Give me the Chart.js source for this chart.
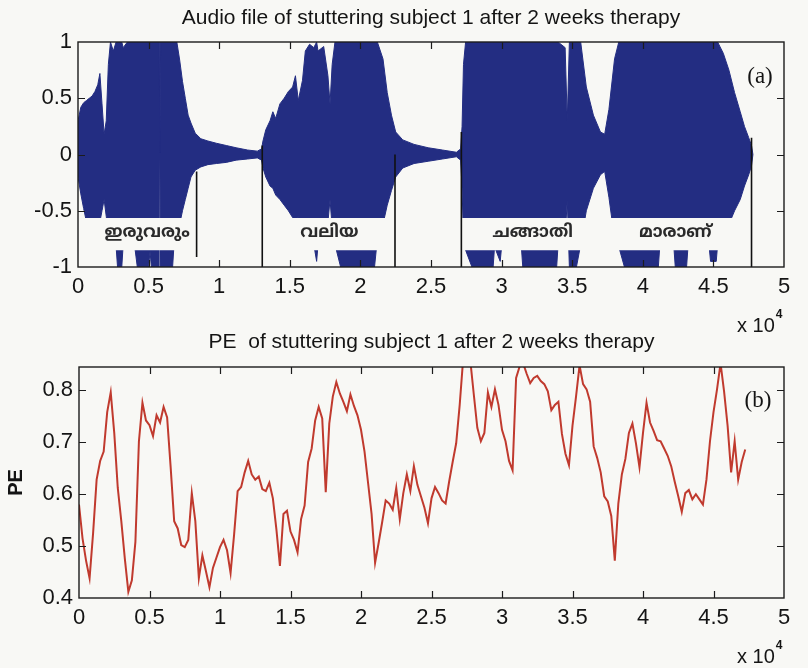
<!DOCTYPE html>
<html>
<head>
<meta charset="utf-8">
<script src="https://cdn.jsdelivr.net/npm/chart.js@4.4.1/dist/chart.umd.min.js"></script>
<style>
  body { margin: 0; background: #f8f8f5; }
  #wrap { position: relative; width: 808px; height: 668px; overflow: hidden; }
  canvas { position: absolute; left: 0; }
  #audio-chart { top: 0; }
  #pe-chart { top: 318px; }
</style>
</head>
<body>
<div id="wrap">
  <canvas id="audio-chart" width="808" height="340"></canvas>
  <canvas id="pe-chart" width="808" height="350"></canvas>
</div>
<script>
// x positions are in units of 10^4 samples
const xTicks = [0, 0.5, 1, 1.5, 2, 2.5, 3, 3.5, 4, 4.5, 5];
const audioTicks = [-1, -0.5, 0, 0.5, 1];
const peTicks = [0.4, 0.5, 0.6, 0.7, 0.8];

// waveform envelope (upper / lower amplitude)
const waveX = [
  0, 0.02, 0.04, 0.06, 0.08, 0.10, 0.12, 0.14, 0.155, 0.17, 0.185, 0.20, 0.215, 0.23, 0.25,
  0.27, 0.28, 0.31, 0.32, 0.35, 0.40, 0.42, 0.50, 0.51, 0.52, 0.575, 0.58, 0.585, 0.67, 0.68,
  0.70, 0.72, 0.74, 0.76, 0.78, 0.80, 0.83, 0.87, 0.92, 0.98, 1.05, 1.12, 1.20, 1.27, 1.30,
  1.31, 1.33, 1.36, 1.38, 1.40, 1.43, 1.46, 1.49, 1.52, 1.54, 1.56, 1.59, 1.61, 1.64, 1.67,
  1.69, 1.70, 1.74, 1.77, 1.785, 1.80, 1.82, 1.86, 2.10, 2.12, 2.16, 2.19, 2.22, 2.25, 2.30,
  2.38, 2.48, 2.58, 2.68, 2.71,
  2.72, 2.73, 2.745, 2.79, 2.94, 2.95, 2.99, 3.00, 3.14, 3.15, 3.39, 3.40, 3.45, 3.465, 3.48,
  3.53, 3.56, 3.60, 3.65, 3.70, 3.73, 3.76, 3.80, 3.83, 3.87, 4.11, 4.12, 4.22, 4.23, 4.31,
  4.32, 4.47, 4.48, 4.52, 4.53, 4.57, 4.61, 4.65, 4.69, 4.72, 4.75, 4.77, 4.78
];
const waveUpper = [
  0.30, 0.42, 0.46, 0.48, 0.50, 0.52, 0.56, 0.62, 0.72, 0.45, 0.18, 0.30, 0.80, 1.00, 0.92,
  1.00, 1.00, 1.00, 0.95, 1.00, 1.00, 1.00, 1.00, 1.00, 1.00, 1.00, 0.02, 1.00, 1.00, 1.00,
  1.00, 0.84, 0.65, 0.50, 0.35, 0.28, 0.19, 0.14, 0.12, 0.10, 0.08, 0.06, 0.04, 0.03, 0.05,
  0.12, 0.22, 0.30, 0.38, 0.32, 0.45, 0.50, 0.56, 0.60, 0.70, 0.48, 0.66, 0.92, 0.98, 0.95,
  1.00, 0.92, 0.96, 0.70, 0.45, 0.80, 1.00, 1.00, 1.00, 1.00, 0.85, 0.55, 0.35, 0.20, 0.13,
  0.09, 0.06, 0.04, 0.02, 0.05,
  0.25, 0.80, 1.00, 1.00, 1.00, 1.00, 1.00, 1.00, 1.00, 1.00, 1.00, 1.00, 0.95, 0.30, 1.00,
  1.00, 1.00, 0.60, 0.35, 0.20, 0.18, 0.40, 0.85, 1.00, 1.00, 1.00, 1.00, 1.00, 1.00, 1.00,
  1.00, 1.00, 1.00, 1.00, 1.00, 0.90, 0.75, 0.55, 0.38, 0.25, 0.15, 0.08, 0.00
];
const waveLower = [
  -0.20, -0.35, -0.48, -0.60, -0.66, -0.62, -0.58, -0.62, -0.60, -0.50, -0.40, -0.55, -0.70, -0.75, -0.80,
  -0.82, -1.00, -1.00, -0.80, -0.82, -0.80, -1.00, -1.00, -0.86, -1.00, -1.00, -0.02, -1.00, -1.00, -0.80,
  -0.70, -0.62, -0.50, -0.40, -0.30, -0.20, -0.14, -0.11, -0.09, -0.08, -0.07, -0.05, -0.04, -0.03, -0.05,
  -0.12, -0.20, -0.28, -0.30, -0.36, -0.40, -0.45, -0.50, -0.56, -0.62, -0.55, -0.70, -0.78, -0.80, -0.80,
  -0.95, -0.80, -0.80, -0.60, -0.40, -0.65, -0.80, -1.00, -1.00, -0.75, -0.62, -0.45, -0.32, -0.20, -0.12,
  -0.08, -0.06, -0.04, -0.02, -0.05,
  -0.30, -0.75, -0.85, -1.00, -1.00, -0.82, -0.95, -0.82, -0.82, -1.00, -1.00, -0.80, -0.75, -0.40, -1.00,
  -1.00, -0.80, -0.50, -0.30, -0.18, -0.15, -0.38, -0.75, -0.82, -1.00, -1.00, -0.82, -0.82, -1.00, -1.00,
  -0.82, -0.82, -0.95, -0.95, -0.80, -0.72, -0.62, -0.50, -0.40, -0.28, -0.18, -0.10, 0.00
];

// word segment boundaries: x, top, bottom
const cutX = [0.84, 1.305, 2.245, 2.715, 4.77];
const cutTop = [-0.15, 0.08, 0.0, 0.2, 0.15];
const cutBottom = [-0.91, -1, -1, -1, -1];

// spoken words and where they sit
const words = ['ഇരുവരും', 'വലിയ', 'ചങ്ങാതി', 'മാരാണ്'];
const wordX = [0.49, 1.78, 3.22, 4.23];
const wordY = -0.7;
// strip kept clear for the word labels
const bandTop = -0.565;
const bandBottom = -0.85;

// permutation entropy, one value every PE_STEP
const PE_STEP = 0.025;
const peValues = [
  0.580, 0.515, 0.472, 0.438, 0.525, 0.628, 0.664, 0.682, 0.758, 0.796,
  0.718, 0.612, 0.548, 0.476, 0.412, 0.434, 0.508, 0.702, 0.776, 0.742,
  0.733, 0.712, 0.752, 0.738, 0.768, 0.748, 0.652, 0.548, 0.534, 0.502,
  0.498, 0.512, 0.602, 0.548, 0.438, 0.482, 0.452, 0.421, 0.458, 0.478,
  0.498, 0.512, 0.492, 0.448, 0.522, 0.606, 0.614, 0.642, 0.664, 0.638,
  0.628, 0.634, 0.610, 0.606, 0.622, 0.592, 0.532, 0.462, 0.562, 0.568,
  0.528, 0.512, 0.488, 0.552, 0.578, 0.662, 0.688, 0.742, 0.768, 0.746,
  0.604, 0.736, 0.788, 0.816, 0.794, 0.778, 0.760, 0.792, 0.770, 0.752,
  0.724, 0.682, 0.622, 0.562, 0.468, 0.506, 0.546, 0.588, 0.582, 0.570,
  0.612, 0.552, 0.602, 0.638, 0.606, 0.654, 0.618, 0.596, 0.574, 0.544,
  0.592, 0.614, 0.602, 0.588, 0.582, 0.624, 0.662, 0.698, 0.772, 0.862,
  0.872, 0.858, 0.792, 0.728, 0.702, 0.718, 0.796, 0.768, 0.802, 0.772,
  0.724, 0.702, 0.664, 0.646, 0.824, 0.846, 0.852, 0.832, 0.814, 0.824,
  0.828, 0.818, 0.812, 0.798, 0.762, 0.772, 0.778, 0.716, 0.678, 0.656,
  0.732, 0.788, 0.848, 0.812, 0.802, 0.778, 0.692, 0.670, 0.642, 0.596,
  0.586, 0.558, 0.472, 0.582, 0.638, 0.668, 0.718, 0.736, 0.698, 0.652,
  0.718, 0.776, 0.738, 0.722, 0.704, 0.702, 0.688, 0.674, 0.654, 0.624,
  0.596, 0.566, 0.602, 0.608, 0.590, 0.600, 0.590, 0.580, 0.628, 0.702,
  0.758, 0.802, 0.852, 0.798, 0.732, 0.642, 0.702, 0.628, 0.662, 0.686
];

const NAVY = '#232d82';
const RED = '#c03a2e';
const BG = '#f8f8f5';
const INK = '#141414';
const SANS = "'Liberation Sans', Arial, sans-serif";

Chart.defaults.font.family = SANS;
Chart.defaults.color = INK;

const pts = (xs, ys) => xs.map((x, i) => ({ x, y: ys[i] }));

function cutLines() {
  const out = [];
  cutX.forEach((x, i) => {
    out.push({ x, y: cutTop[i] }, { x, y: cutBottom[i] }, { x, y: null });
  });
  return out;
}

// box around the axes, inward tick marks, the x10^4 note and the panel tag
const axisFrame = {
  id: 'axisFrame',
  afterDraw(chart, args, opts) {
    const { ctx, chartArea: a, scales: { x, y } } = chart;
    ctx.save();
    ctx.strokeStyle = '#1c1c1c';
    ctx.lineWidth = 1.4;
    ctx.strokeRect(a.left, a.top, a.width, a.height);
    ctx.lineWidth = 1.2;
    ctx.beginPath();
    x.ticks.forEach(t => {
      const px = Math.round(x.getPixelForValue(t.value)) + 0.5;
      if (px < a.left + 2 || px > a.right - 2) return;
      ctx.moveTo(px, a.bottom); ctx.lineTo(px, a.bottom - 7);
      ctx.moveTo(px, a.top); ctx.lineTo(px, a.top + 7);
    });
    y.ticks.forEach(t => {
      const py = Math.round(y.getPixelForValue(t.value)) + 0.5;
      if (py < a.top + 2 || py > a.bottom - 2) return;
      ctx.moveTo(a.left, py); ctx.lineTo(a.left + 7, py);
      ctx.moveTo(a.right, py); ctx.lineTo(a.right - 7, py);
    });
    ctx.stroke();

    ctx.fillStyle = INK;
    ctx.textBaseline = 'alphabetic';
    ctx.textAlign = 'left';
    ctx.font = '20px ' + SANS;
    const ex = a.right - 47;
    ctx.fillText('x 10', ex, a.bottom + 65);
    const w = ctx.measureText('x 10').width;
    ctx.font = 'bold 12px ' + SANS;
    ctx.fillText('4', ex + w + 1, a.bottom + 51);

    ctx.font = "23px 'Liberation Serif', 'Times New Roman', serif";
    ctx.textAlign = 'center';
    ctx.textBaseline = 'middle';
    ctx.fillText(opts.tag, x.getPixelForValue(opts.tagX), y.getPixelForValue(opts.tagY));
    ctx.restore();
  }
};

// the spoken words written inside the cleared strip
const wordLabels = {
  id: 'wordLabels',
  afterDatasetsDraw(chart) {
    const { ctx, scales: { x, y } } = chart;
    ctx.save();
    ctx.fillStyle = '#2a2a2a';
    ctx.font = "bold 17px 'Noto Sans Malayalam', 'Noto Sans', sans-serif";
    ctx.textAlign = 'center';
    ctx.textBaseline = 'middle';
    words.forEach((w, i) => ctx.fillText(w, x.getPixelForValue(wordX[i]), y.getPixelForValue(wordY)));
    ctx.restore();
  }
};

const plainNum = v => String(v);

function xScale(height) {
  return {
    type: 'linear', min: 0, max: 5,
    afterBuildTicks: s => { s.ticks = xTicks.map(v => ({ value: v })); },
    afterFit: s => { s.height = height; },
    grid: { display: false, drawTicks: false },
    border: { display: false },
    ticks: { font: { size: 22 }, color: INK, padding: 7, maxRotation: 0, autoSkip: false, callback: plainNum }
  };
}

new Chart(document.getElementById('audio-chart'), {
  type: 'line',
  data: {
    datasets: [
      { data: pts(waveX, waveUpper), fill: '+1', backgroundColor: NAVY, borderColor: NAVY, borderWidth: 1, pointRadius: 0, order: 4 },
      { data: pts(waveX, waveLower), fill: false, borderColor: NAVY, borderWidth: 1, pointRadius: 0, order: 4 },
      { data: [{ x: 0, y: bandTop }, { x: 5, y: bandTop }], fill: '+1', backgroundColor: BG, borderWidth: 0, pointRadius: 0, order: 3 },
      { data: [{ x: 0, y: bandBottom }, { x: 5, y: bandBottom }], fill: false, borderWidth: 0, pointRadius: 0, order: 3 },
      { data: cutLines(), borderColor: '#111', borderWidth: 1.6, pointRadius: 0, spanGaps: false, fill: false, order: 2 }
    ]
  },
  options: {
    responsive: false,
    animation: false,
    layout: { padding: { right: 24 } },
    plugins: {
      legend: { display: false },
      tooltip: { enabled: false },
      filler: { drawTime: 'beforeDatasetDraw' },
      title: {
        display: true, fullSize: false,
        text: 'Audio file of stuttering subject 1 after 2 weeks therapy',
        font: { size: 21, weight: 'normal' }, color: INK,
        padding: { top: 5.4, bottom: 11.4 }
      },
      axisFrame: { tag: '(a)', tagX: 4.83, tagY: 0.69 }
    },
    scales: {
      x: xScale(73),
      y: {
        min: -1, max: 1,
        afterBuildTicks: s => { s.ticks = audioTicks.map(v => ({ value: v })); },
        afterFit: s => { s.width = 78; },
        grid: { display: false, drawTicks: false },
        border: { display: false },
        ticks: { font: { size: 22 }, color: INK, padding: 6, callback: plainNum }
      }
    }
  },
  plugins: [axisFrame, wordLabels]
});

new Chart(document.getElementById('pe-chart'), {
  type: 'line',
  data: {
    datasets: [{
      data: peValues.map((v, i) => ({ x: i * PE_STEP, y: v })),
      borderColor: RED, borderWidth: 2, pointRadius: 0, tension: 0, fill: false
    }]
  },
  options: {
    responsive: false,
    animation: false,
    layout: { padding: { right: 24 } },
    plugins: {
      legend: { display: false },
      tooltip: { enabled: false },
      title: {
        display: true, fullSize: false,
        text: 'PE  of stuttering subject 1 after 2 weeks therapy',
        font: { size: 21, weight: 'normal' }, color: INK,
        padding: { top: 11.4, bottom: 12.4 }
      },
      axisFrame: { tag: '(b)', tagX: 4.815, tagY: 0.78 }
    },
    scales: {
      x: xScale(70),
      y: {
        min: 0.4, max: 0.845,
        afterBuildTicks: s => { s.ticks = peTicks.map(v => ({ value: v })); },
        afterFit: s => { s.width = 79; },
        grid: { display: false, drawTicks: false },
        border: { display: false },
        title: { display: true, text: 'PE', font: { size: 20, weight: 'bold' }, color: INK, padding: { top: 4, bottom: 0 } },
        ticks: { font: { size: 22 }, color: INK, padding: 6, callback: plainNum }
      }
    }
  },
  plugins: [axisFrame]
});
</script>
</body>
</html>
